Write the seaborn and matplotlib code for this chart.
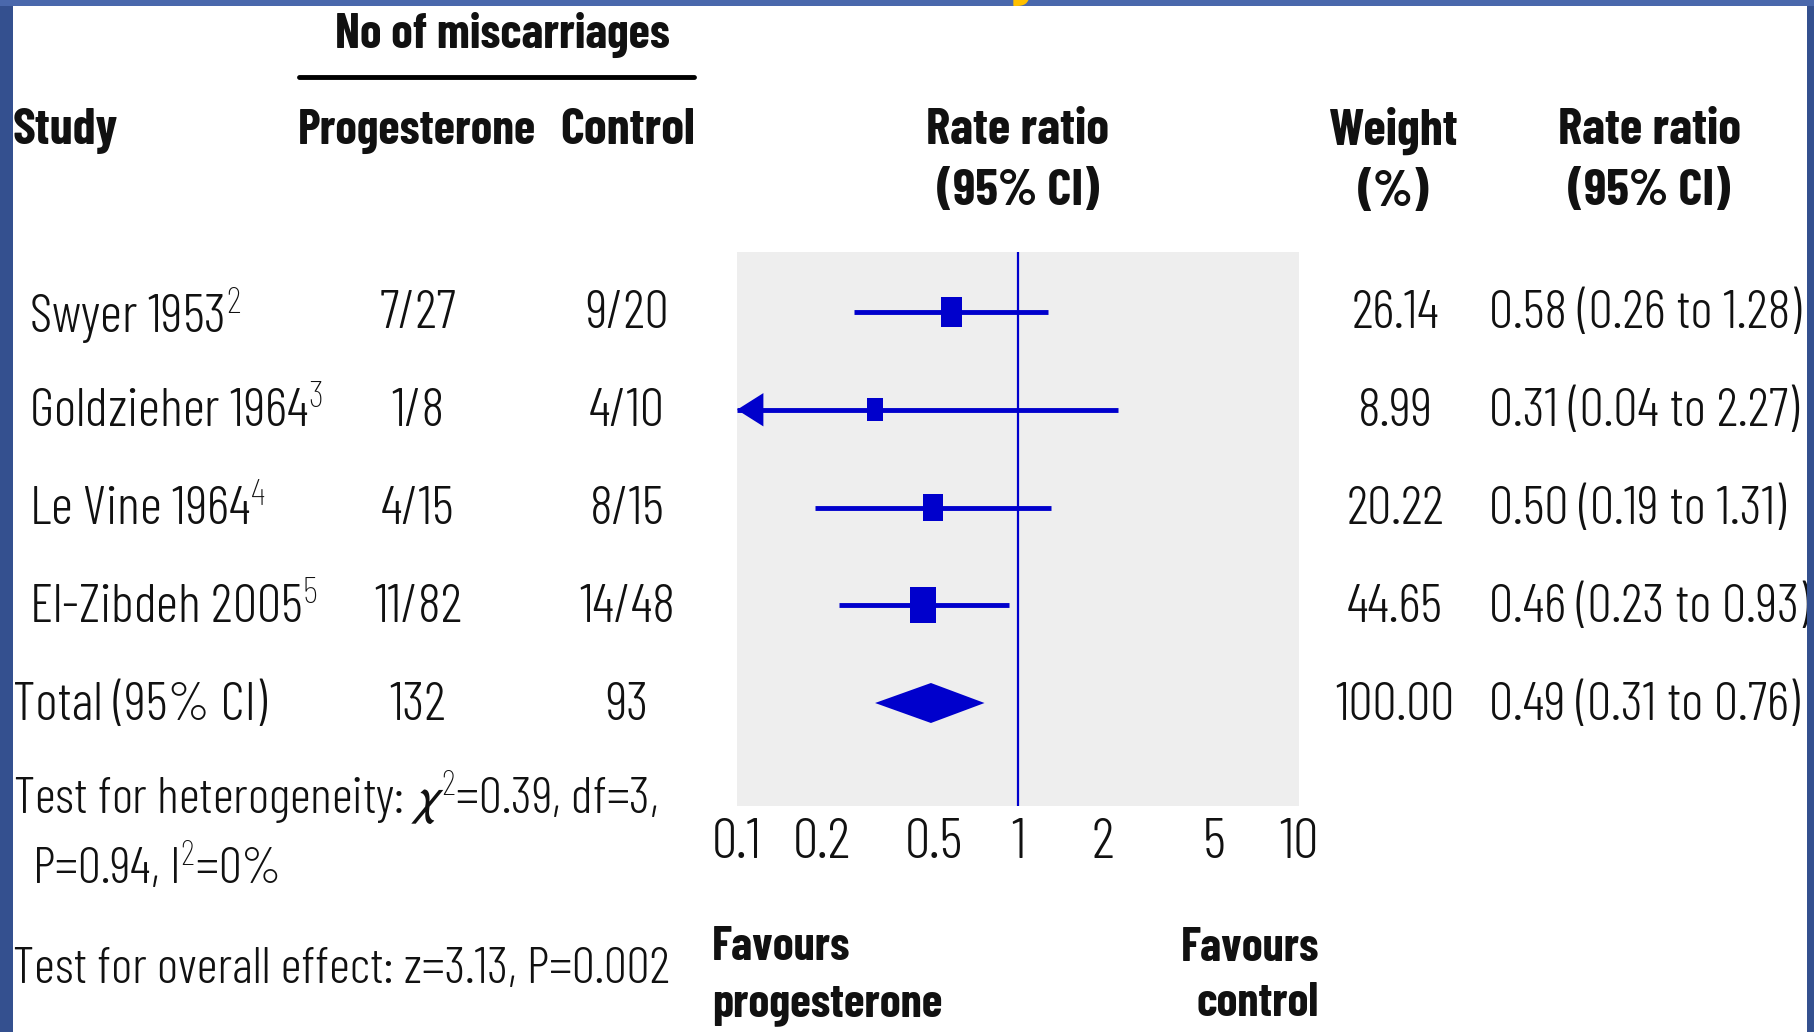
import numpy as np
import matplotlib
matplotlib.use("Agg")
import matplotlib.pyplot as plt
import matplotlib.transforms as mtransforms
from matplotlib.patches import Rectangle
from matplotlib.path import Path
from matplotlib.ticker import NullLocator
import seaborn as sns

# data
studies = ["Swyer 1953", "Goldzieher 1964", "Le Vine 1964", "El-Zibdeh 2005"]
refs = ["2", "3", "4", "5"]
prog_events = ["7/27", "1/8", "4/15", "11/82"]
ctrl_events = ["9/20", "4/10", "8/15", "14/48"]
weights = [26.14, 8.99, 20.22, 44.65]
rate_ratio = [0.58, 0.31, 0.50, 0.46]
ci_low = [0.26, 0.04, 0.19, 0.23]
ci_high = [1.28, 2.27, 1.31, 0.93]

total_label = "Total (95% CI)"
total_prog = "132"
total_ctrl = "93"
total_weight = 100.00
total_rr = 0.49
total_low = 0.31
total_high = 0.76

x_ticks = [0.1, 0.2, 0.5, 1, 2, 5, 10]
x_tick_labels = ["0.1", "0.2", "0.5", "1", "2", "5", "10"]

heterogeneity = ["Test for heterogeneity: $\\chi^{2}$=0.39, df=3,", " P=0.94, I$^{2}$=0%"]
overall = "Test for overall effect: z=3.13, P=0.002"

BLUE = "#0000cc"
W, H = 1814, 1032

sns.set_style("white")
plt.rcParams["font.family"] = ["Barlow Condensed", "DejaVu Sans"]
plt.rcParams["mathtext.fontset"] = "custom"
plt.rcParams["mathtext.rm"] = "Barlow Condensed:light"
plt.rcParams["mathtext.it"] = "Barlow Condensed:light:italic"
plt.rcParams["mathtext.bf"] = "Barlow Condensed:bold"
plt.rcParams["mathtext.fallback"] = "stixsans"

BODY = 39
FOOT_SIZE = 37
TICK = 41
HEAD = 37
BW = 300   # body weight
HW = 700   # header weight


def fx(px):
    return px / W


def fy(py):
    return 1 - py / H


fig = plt.figure(figsize=(W / 100, H / 100), dpi=100, facecolor="#34508f")

# slide frame: lighter top strip, white picture, borders on top of text
fig.add_artist(Rectangle((0, fy(7)), 1, 7 / H, transform=fig.transFigure,
                         facecolor="#4a68ac", edgecolor="none", zorder=-2))
fig.text(fx(1018), fy(-5), "g", color="#ffc000", fontsize=40, fontweight="bold",
         ha="center", va="baseline", zorder=-1)
fig.add_artist(Rectangle((fx(13), 0), fx(1807) - fx(13), fy(6), transform=fig.transFigure,
                         facecolor="white", edgecolor="none", zorder=-0.5))
fig.add_artist(Rectangle((0, 0), fx(13), fy(6), transform=fig.transFigure,
                         facecolor="#34508f", edgecolor="none", zorder=10))
fig.add_artist(Rectangle((fx(1807), 0), 1 - fx(1807), fy(6), transform=fig.transFigure,
                         facecolor="#34508f", edgecolor="none", zorder=10))

# forest panel
ax = fig.add_axes([fx(737), fy(806), fx(1299) - fx(737), (806 - 252) / H])
ax.set_facecolor("#eeeeee")
for s in ax.spines.values():
    s.set_visible(False)

rows = np.arange(len(studies))
total_row = len(studies)
step = 97.75
ax.set_xscale("log")
ax.set_xlim(x_ticks[0], x_ticks[-1])
ax.set_ylim((806 - 312) / step, -(312 - 252) / step)

ax.axvline(1, color=BLUE, lw=1.6, zorder=3)
ax.hlines(rows, np.maximum(ci_low, x_ticks[0]), ci_high, color=BLUE, lw=3.5, zorder=2)
for r, lo, hi in zip(rows, ci_low, ci_high):
    if lo < x_ticks[0]:
        ax.annotate("", xy=(x_ticks[0], r), xytext=(x_ticks[0] * 1.3, r),
                    annotation_clip=False,
                    arrowprops=dict(arrowstyle="-|>,head_length=0.95,head_width=0.6",
                                    mutation_scale=20, color=BLUE, lw=0,
                                    shrinkA=0, shrinkB=0))

rect = Path([(-0.36, -0.5), (0.36, -0.5), (0.36, 0.5), (-0.36, 0.5), (-0.36, -0.5)], closed=True)
sns.scatterplot(x=rate_ratio, y=rows, size=weights, sizes=(270, 680), marker=rect,
                color=BLUE, edgecolor=BLUE, linewidth=0, legend=False, ax=ax, zorder=4)

h = 20 / step
ax.fill([total_low, total_rr, total_high, total_rr],
        [total_row, total_row - h, total_row, total_row + h], color=BLUE, lw=0, zorder=4)

ax.xaxis.set_minor_locator(NullLocator())
ax.set_xticks(x_ticks)
ax.set_xticklabels(x_tick_labels, fontsize=TICK, fontweight=BW)
ax.set_yticks([])
ax.tick_params(axis="x", direction="in", length=14, width=2.5, color="white", pad=9,
               labelcolor="#111111")

TXT = dict(color="#111111")
# header
fig.text(fx(502), fy(35), "No of miscarriages", fontsize=35, fontweight=HW,
         ha="center", va="center", **TXT)
fig.add_artist(plt.Line2D([fx(299), fx(694)], [fy(77), fy(77)], color="black", lw=3.5,
                          transform=fig.transFigure))
fig.text(fx(13), fy(131), "Study", fontsize=HEAD, fontweight=HW, ha="left", va="center", **TXT)
fig.text(fx(417), fy(131), "Progesterone", fontsize=35, fontweight=HW, ha="center",
         va="center", **TXT)
fig.text(fx(628), fy(131), "Control", fontsize=HEAD, fontweight=HW, ha="center",
         va="center", **TXT)
for cx, txt in [(1018, "Rate ratio\n(95% CI)"), (1394, "Weight\n(%)"), (1649, "Rate ratio\n(95% CI)")]:
    fig.text(fx(cx), fy(161), txt, fontsize=HEAD, fontweight=HW, ha="center",
             va="center", multialignment="center", linespacing=1.42, **TXT)

# table rows tied to the panel's rows
trans = mtransforms.offset_copy(
    mtransforms.blended_transform_factory(fig.transFigure, ax.transData),
    fig=fig, x=0, y=-3, units="dots")
ROW = dict(transform=trans, fontsize=BODY, fontweight=BW, va="center", **TXT)
for r, name, ref, pe, ce, w, rr, lo, hi in zip(rows, studies, refs, prog_events, ctrl_events,
                                                weights, rate_ratio, ci_low, ci_high):
    fig.text(fx(29), r, f"{name}$^{{{ref}}}$", ha="left", **ROW)
    fig.text(fx(418), r, pe, ha="center", **ROW)
    fig.text(fx(627), r, ce, ha="center", **ROW)
    fig.text(fx(1395), r, f"{w:.2f}", ha="center", **ROW)
    fig.text(fx(1489), r, f"{rr:.2f} ({lo:.2f} to {hi:.2f})", ha="left", **ROW)

fig.text(fx(13), total_row, total_label, ha="left", **ROW)
fig.text(fx(418), total_row, total_prog, ha="center", **ROW)
fig.text(fx(627), total_row, total_ctrl, ha="center", **ROW)
fig.text(fx(1395), total_row, f"{total_weight:.2f}", ha="center", **ROW)
fig.text(fx(1489), total_row, f"{total_rr:.2f} ({total_low:.2f} to {total_high:.2f})",
         ha="left", **ROW)

# footnotes
FOOT = dict(fontsize=FOOT_SIZE, fontweight=BW, ha="left", va="center", **TXT)
fig.text(fx(13), fy(798), heterogeneity[0], **FOOT)
fig.text(fx(22), fy(868), heterogeneity[1], **FOOT)
fig.text(fx(13), fy(970), overall, **FOOT)

fig.text(fx(712), fy(976), "Favours\nprogesterone", fontsize=34, fontweight=HW,
         ha="left", va="center", linespacing=1.38, **TXT)
fig.text(fx(1319), fy(976), "Favours\ncontrol", fontsize=34, fontweight=HW,
         ha="right", va="center", multialignment="right", linespacing=1.38, **TXT)

fig.savefig("out.png", dpi=100, facecolor=fig.get_facecolor())
